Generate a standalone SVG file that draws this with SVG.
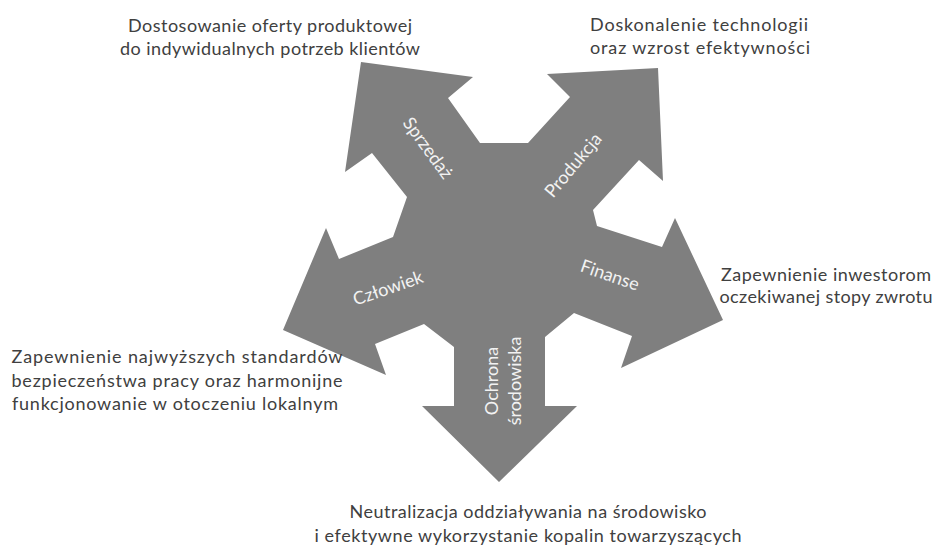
<svg xmlns="http://www.w3.org/2000/svg" width="936" height="545" viewBox="0 0 936 545">
<style>
.desc{font-family:Lato,"Liberation Sans",sans-serif;font-size:18px;fill:#404040;text-anchor:middle}
.lbl{font-family:Lato,"Liberation Sans",sans-serif;font-size:18px;fill:#f2f2f2;text-anchor:middle}
.shape{fill:#7f7f7f}
</style>
<rect width="936" height="545" fill="#ffffff"/>
<g id="connectors">
<polygon class="shape" points="361,62 473,77 448,98 480,143 528,143 570,97 547,74 658,68 663,181 639,160 593,210 597,226 662,247 675,218 723,320 621,368 632,336 574,313 545,337 545,406 577,406 499,482 422,406 454,406 454,347 424,324 375,344 386,375 283,330 326,228 339,259 393,237 407,197 372,153 345,172"/>
</g>
<g id="sprzedaz">
<text class="lbl" transform="translate(428,148) rotate(54)" dy="0.35em">Sprzedaż</text>
<text class="desc" x="270" y="32" textLength="284">Dostosowanie oferty produktowej</text>
<text class="desc" x="270" y="55" textLength="300">do indywidualnych potrzeb klientów</text>
</g>
<g id="produkcja">
<text class="lbl" transform="translate(573,165) rotate(-50)" dy="0.35em">Produkcja</text>
<text class="desc" x="699" y="31" textLength="218">Doskonalenie technologii</text>
<text class="desc" x="700" y="54" textLength="220">oraz wzrost efektywności</text>
</g>
<g id="finanse">
<text class="lbl" transform="translate(610,275) rotate(19)" dy="0.35em">Finanse</text>
<text class="desc" x="826" y="281" textLength="210">Zapewnienie inwestorom</text>
<text class="desc" x="826" y="303" textLength="213">oczekiwanej stopy zwrotu</text>
</g>
<g id="czlowiek">
<text class="lbl" transform="translate(388,288) rotate(-19)" dy="0.35em">Człowiek</text>
<text class="desc" x="177" y="363" textLength="331">Zapewnienie najwyższych standardów</text>
<text class="desc" x="177" y="387" textLength="331">bezpieczeństwa pracy oraz harmonijne</text>
<text class="desc" x="175" y="410" textLength="326">funkcjonowanie w otoczeniu lokalnym</text>
</g>
<g id="ochrona">
<text class="lbl" transform="translate(500,381) rotate(-90)"><tspan x="0" y="-2">Ochrona</tspan><tspan x="0" y="21">środowiska</tspan></text>
<text class="desc" x="528" y="518" textLength="357">Neutralizacja oddziaływania na środowisko</text>
<text class="desc" x="528" y="542" textLength="427">i efektywne wykorzystanie kopalin  towarzyszących</text>
</g>
</svg>
